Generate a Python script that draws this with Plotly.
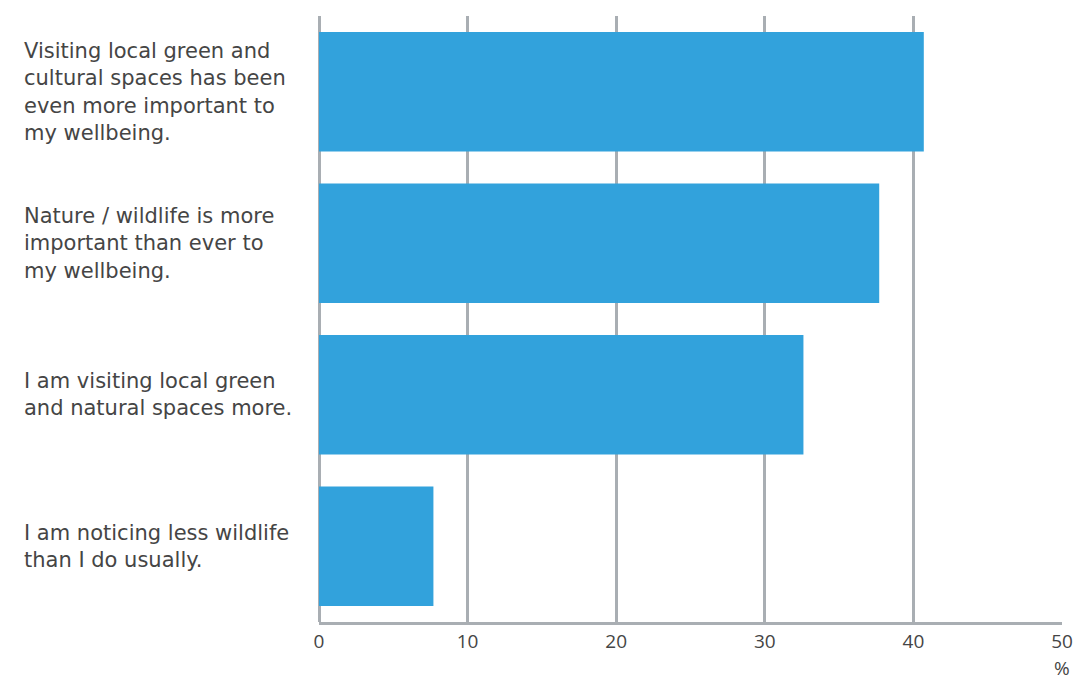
import plotly.graph_objects as go

categories = [
    "Visiting local green and<br>cultural spaces has been<br>even more important to<br>my wellbeing.",
    "Nature / wildlife is more<br>important than ever to<br>my wellbeing.",
    "I am visiting local green<br>and natural spaces more.",
    "I am noticing less wildlife<br>than I do usually.",
]
values = [40.7, 37.7, 32.6, 7.7]
tick_vals = [0, 10, 20, 30, 40, 50]
tick_text = ["0", "10", "20", "30", "40", "50"]
unit_label = "%"

bar_color = "#32a2dc"
grid_color = "#a9aeb3"
text_color = "#454545"
label_font = "'DejaVu Sans', sans-serif"
tick_font = "'Open Sans', 'Noto Sans', sans-serif"

fig = go.Figure(
    go.Bar(
        x=values,
        y=categories,
        orientation="h",
        marker=dict(color=bar_color, line=dict(width=0)),
        hoverinfo="x",
    )
)

annotations = []
for c in categories:
    annotations.append(
        dict(
            x=-0.4, xref="paper", y=c, yref="y",
            text=c, showarrow=False, xanchor="left", yanchor="middle", align="left",
            font=dict(size=21, color=text_color, family=label_font),
        )
    )
annotations.append(
    dict(
        x=50, xref="x", y=-0.076, yref="paper", text=unit_label, showarrow=False,
        xanchor="center", yanchor="middle",
        font=dict(size=19, color=text_color, family=tick_font),
    )
)

fig.update_layout(
    width=1075, height=677,
    margin=dict(l=319, r=13, t=16, b=55, autoexpand=False),
    paper_bgcolor="white", plot_bgcolor="white",
    bargap=0.21,
    showlegend=False,
    annotations=annotations,
    font=dict(family=tick_font, color=text_color),
    xaxis=dict(
        range=[0, 50], tickvals=tick_vals, ticktext=tick_text,
        automargin=False,
        showgrid=True, gridcolor=grid_color, gridwidth=3,
        zeroline=True, zerolinecolor=grid_color, zerolinewidth=3,
        showline=True, linecolor=grid_color, linewidth=3, mirror=False,
        ticks="", ticklabelstandoff=0,
        tickfont=dict(size=19, color=text_color, family=tick_font),
        fixedrange=True,
    ),
    yaxis=dict(
        autorange="reversed", showticklabels=False, showgrid=False,
        automargin=False,
        zeroline=False, showline=False, ticks="", fixedrange=True,
    ),
)

fig.write_html(
    "out.html",
    config={"displayModeBar": False, "responsive": False},
    post_script="document.body.style.margin='0';document.body.style.overflow='hidden';document.documentElement.style.overflow='hidden';",
)
